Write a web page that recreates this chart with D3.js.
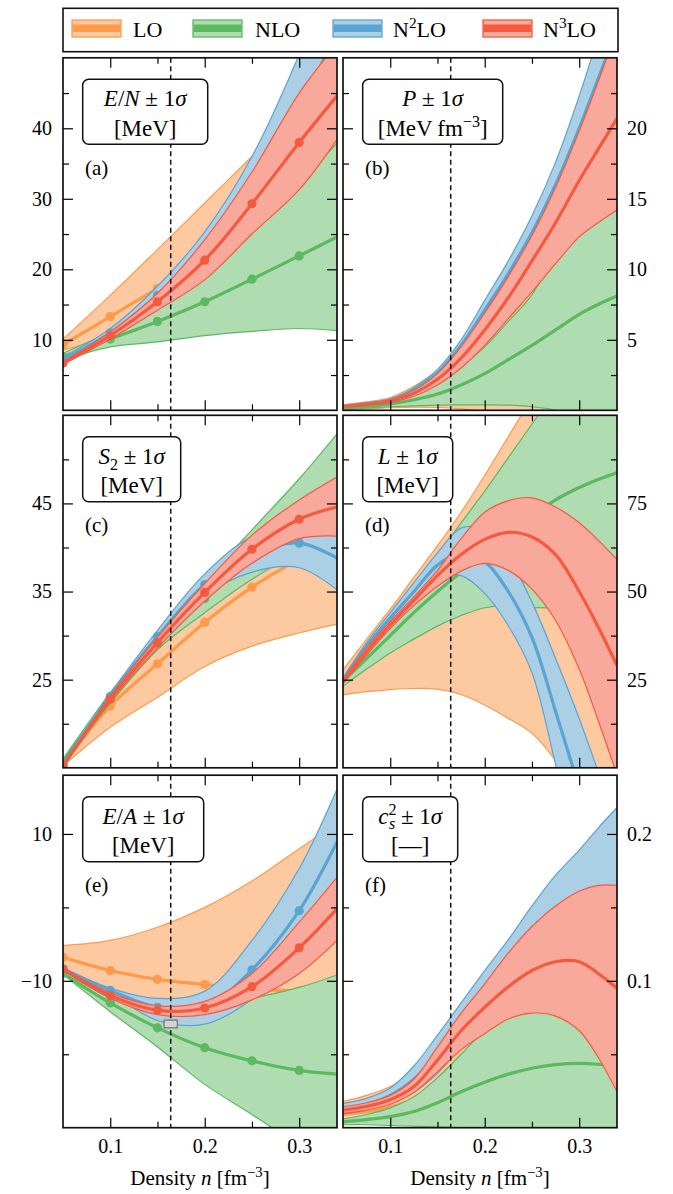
<!DOCTYPE html>
<html>
<head>
<meta charset="utf-8">
<script src="https://cdn.jsdelivr.net/npm/d3@7"></script>
<style>
  body { margin: 0; background: #fff; }
  svg text { font-family: "Liberation Serif", "DejaVu Serif", serif; }
</style>
</head>
<body>
<svg id="fig" width="673" height="1194"></svg>
<script>
// densities (fm^-3)
const nCoarse = [0.05, 0.10, 0.15, 0.20, 0.25, 0.30, 0.34];
const nFine = [0.05, 0.075, 0.10, 0.125, 0.15, 0.175, 0.20, 0.225, 0.25, 0.275, 0.30, 0.32, 0.34];
const nSat = 0.164;
const satN = [0.157, 0.171];
const satE = [-16.4, -15.35];

const orders = ["LO", "NLO", "N2LO", "N3LO"];

// (a) E/N [MeV]
const enLO   = { lo: [8.5, 10.3, 11.8, 13.0, 14.0, 15.1, 15.6], mid: [9.3, 13.3, 17.3, 21.2, 25.0, 28.8, 31.8], hi: [10.1, 16.3, 22.8, 29.4, 36.0, 42.5, 48.0] };
const enNLO  = { lo: [7.1, 9.0, 9.7, 10.6, 11.2, 11.6, 11.3], mid: [7.6, 10.1, 12.6, 15.4, 18.6, 21.9, 24.6], hi: [8.1, 11.2, 15.5, 20.2, 26.0, 32.2, 37.9] };
const enN2LO = { lo: [6.9, 10.4, 15.0, 20.1, 26.0, 34.5, 43.5], mid: [7.2, 11.0, 16.3, 22.7, 31.0, 42.5, 54.0], hi: [7.5, 11.6, 17.6, 25.3, 36.0, 50.5, 64.5] };
const enN3LO = { lo: [6.5, 10.1, 14.2, 18.5, 25.0, 31.3, 38.4], mid: [6.7, 10.6, 15.4, 21.3, 29.3, 38.0, 44.6], hi: [6.9, 11.1, 16.6, 24.2, 33.8, 45.0, 52.0] };

// (b) P [MeV fm^-3]
const pLO   = { lo: [0.05, 0.1, 0.18, 0.22, 0.2, 0.1, -0.1, -0.4, -0.8, -1.3, -2.0, -2.5, -3.0],
                mid: [0.22, 0.35, 0.54, 0.96, 1.5, 2.05, 2.6, 3.2, 3.9, 4.6, 5.25, 5.75, 6.3],
                hi: [0.4, 0.6, 0.9, 1.7, 2.8, 4.0, 5.3, 6.8, 8.6, 10.5, 12.5, 14.0, 15.6] };
const pNLO  = { lo: [0.05, 0.15, 0.25, 0.32, 0.36, 0.38, 0.38, 0.36, 0.25, 0.0, -0.8, -1.6, -2.5],
                mid: [0.1, 0.25, 0.45, 0.75, 1.15, 1.8, 2.6, 3.6, 4.6, 5.7, 6.8, 7.5, 8.1],
                hi: [0.15, 0.35, 0.65, 1.18, 1.94, 3.1, 4.5, 6.3, 8.2, 11.4, 14.4, 16.6, 18.7] };
const pN2LO = { lo: [0.24, 0.42, 0.66, 1.3, 2.4, 4.2, 6.4, 8.8, 11.4, 14.4, 17.7, 20.5, 23.0],
                mid: [0.28, 0.47, 0.73, 1.45, 2.65, 4.6, 7.1, 9.7, 12.6, 16.0, 20.0, 23.5, 27.0],
                hi: [0.32, 0.52, 0.8, 1.6, 2.9, 5.0, 7.8, 10.6, 13.8, 17.6, 22.3, 26.5, 31.0] };
const pN3LO = { lo: [0.2, 0.36, 0.55, 1.0, 1.8, 3.0, 4.6, 6.5, 8.4, 10.4, 12.3, 13.3, 14.2],
                mid: [0.25, 0.42, 0.65, 1.2, 2.2, 3.7, 5.7, 8.0, 10.6, 13.3, 16.3, 18.5, 20.7],
                hi: [0.3, 0.48, 0.75, 1.4, 2.6, 4.5, 6.9, 9.5, 12.4, 15.8, 19.8, 23.3, 27.0] };

// (c) S2 [MeV]
const s2LO   = { lo: [15.2, 19.6, 23.0, 26.5, 28.8, 30.3, 31.3], mid: [15.4, 22.0, 26.8, 31.5, 35.5, 38.7, 41.0], hi: [15.6, 23.5, 30.0, 36.0, 41.8, 47.0, 50.5] };
const s2NLO  = { lo: [15.4, 22.3, 28.4, 32.6, 36.4, 39.4, 41.0], mid: [15.7, 22.8, 29.1, 34.2, 39.2, 43.6, 47.0], hi: [16.0, 23.5, 30.2, 36.2, 42.0, 47.8, 52.9] };
const s2N2LO = { lo: [15.2, 22.8, 29.2, 34.5, 37.2, 37.7, 35.2], mid: [15.3, 23.1, 29.9, 35.8, 39.3, 40.5, 38.8], hi: [15.4, 23.4, 30.6, 37.0, 41.2, 42.2, 41.4] };
const s2N3LO = { lo: [15.1, 22.5, 28.6, 33.9, 38.2, 41.0, 41.3], mid: [15.2, 22.8, 29.2, 34.9, 39.8, 43.2, 44.6], hi: [15.3, 23.1, 29.8, 35.9, 41.4, 45.4, 48.0] };

// (d) L [MeV]
const lLO   = { lo: [20.7, 21.6, 22.2, 22.5, 22.3, 20.8, 17.8, 14.0, 9.8, 2.0, -9.5, -19.0, -28.0],
                mid: [24.3, 29.1, 33.6, 38.3, 42.7, 46.7, 50.4, 54.0, 57.4, 59.0, 58.8, 58.5, 58.5],
                hi: [27.8, 36.5, 45.0, 54.0, 63.0, 72.5, 83.0, 94.0, 105.0, 116.0, 127.0, 136.0, 145.0] };
const lNLO  = { lo: [23.1, 28.0, 32.6, 36.5, 40.2, 43.2, 45.4, 46.0, 45.5, 45.0, 42.0, 38.6, 35.4],
                mid: [24.5, 31.0, 37.5, 44.0, 50.0, 55.5, 61.0, 66.5, 71.5, 76.0, 79.5, 81.8, 83.7],
                hi: [25.5, 34.0, 43.0, 51.5, 60.5, 69.5, 78.5, 88.0, 97.5, 107.0, 117.0, 125.0, 132.0] };
const lN2LO = { lo: [24.5, 33.5, 41.0, 47.5, 54.0, 54.5, 49.5, 40.3, 27.0, 1.0, -26.0, -51.0, -76.0],
                mid: [25.0, 34.5, 42.5, 50.0, 57.5, 61.0, 58.5, 50.0, 37.0, 16.0, -6.0, -26.0, -46.0],
                hi: [25.5, 35.5, 44.0, 52.5, 61.0, 68.0, 67.5, 59.7, 47.0, 31.0, 14.0, -1.0, -16.0] };
const lN3LO = { lo: [23.8, 32.0, 39.5, 46.0, 51.5, 55.8, 58.0, 56.0, 50.7, 41.8, 28.0, 13.5, -2.0],
                mid: [24.4, 33.0, 40.5, 47.5, 54.5, 60.5, 64.8, 66.8, 65.5, 60.5, 50.0, 40.0, 29.0],
                hi: [25.0, 34.0, 41.5, 48.5, 56.0, 65.0, 72.5, 75.8, 76.6, 74.0, 69.5, 64.6, 59.1] };

// (e) E/A [MeV]
const eaLO   = { lo: [-8.4, -12.7, -16.9, -21.0, -25.8, -30.8, -34.7], mid: [-6.8, -8.6, -9.8, -10.5, -11.1, -11.4, -11.6], hi: [-5.2, -4.5, -2.7, 0.0, 3.6, 8.0, 11.5] };
const eaNLO  = { lo: [-9.1, -14.2, -19.0, -24.1, -28.2, -32.5, -36.0], mid: [-9.0, -13.0, -16.4, -19.1, -20.9, -22.2, -22.7], hi: [-8.9, -12.0, -13.8, -13.6, -12.4, -10.9, -9.2] };
const eaN2LO = { lo: [-8.6, -11.7, -15.4, -15.9, -12.5, -6.2, 1.7], mid: [-8.4, -11.3, -13.6, -13.6, -8.5, -0.45, 8.9], hi: [-8.2, -11.0, -12.4, -11.4, -4.5, 5.3, 16.1] };
const eaN3LO = { lo: [-8.55, -12.35, -14.6, -14.6, -12.6, -9.0, -4.5], mid: [-8.4, -12.0, -14.0, -13.7, -10.8, -5.5, -0.2], hi: [-8.25, -11.65, -13.4, -12.8, -9.0, -2.0, 4.1] };

// (f) c_s^2
const csLO   = { lo: [0.004, 0.004, 0.004, 0.003, 0.002, 0.001, 0.0, -0.001, -0.002, -0.003, -0.004, -0.005, -0.006],
                 mid: [0.009, 0.011, 0.014, 0.019, 0.026, 0.034, 0.04, 0.044, 0.046, 0.047, 0.048, 0.047, 0.047],
                 hi: [0.018, 0.022, 0.028, 0.038, 0.052, 0.068, 0.08, 0.09, 0.095, 0.098, 0.1, 0.1, 0.1] };
const csNLO  = { lo: [0.002, 0.002, 0.0015, 0.001, 0.0005, 0.0, -0.001, -0.0015, -0.002, -0.002, -0.002, -0.002, -0.002],
                 mid: [0.004, 0.0055, 0.0075, 0.011, 0.017, 0.0245, 0.031, 0.0365, 0.0405, 0.043, 0.0438, 0.0432, 0.0415],
                 hi: [0.006, 0.009, 0.0135, 0.021, 0.034, 0.05, 0.066, 0.0755, 0.082, 0.088, 0.09, 0.088, 0.084] };
const csN2LO = { lo: [0.0094, 0.012, 0.017, 0.024, 0.037, 0.055, 0.073, 0.088, 0.099, 0.108, 0.111, 0.106, 0.102],
                 mid: [0.013, 0.016, 0.022, 0.033, 0.05, 0.07, 0.09, 0.108, 0.125, 0.14, 0.15, 0.155, 0.16],
                 hi: [0.0166, 0.02, 0.027, 0.042, 0.063, 0.085, 0.107, 0.128, 0.151, 0.172, 0.189, 0.204, 0.218] };
const csN3LO = { lo: [0.0098, 0.012, 0.016, 0.024, 0.038, 0.053, 0.064, 0.074, 0.078, 0.076, 0.066, 0.048, 0.0245],
                 mid: [0.012, 0.0145, 0.019, 0.028, 0.046, 0.066, 0.082, 0.096, 0.107, 0.113, 0.113, 0.105, 0.095],
                 hi: [0.0143, 0.017, 0.022, 0.033, 0.055, 0.078, 0.098, 0.119, 0.137, 0.151, 0.161, 0.165, 0.165] };

const colors = [
  { line: "#fd9a4b", fill: "#fdc9a0" },
  { line: "#5db862", fill: "#afdcb0" },
  { line: "#5ba3d0", fill: "#abd0e6" },
  { line: "#f35a40", fill: "#f9a99b" }
];

const serif = '"Liberation Serif", "DejaVu Serif", serif';
const W = 274, H = 352.5;
const colX = [63, 343], rowY = [57.8, 415.3, 775.2];
const curve = d3.curveCatmullRom.alpha(0.5);

const panels = [
  { id: "a", col: 0, row: 0, grid: nCoarse, data: [enLO, enNLO, enN2LO, enN3LO], dom: [0, 50],
    major: [10, 20, 30, 40], minor: [5, 15, 25, 35, 45], fmt: d3.format("d"), dots: true, boxW: 125,
    l1: [{ t: "E", i: 1 }, { t: "/" }, { t: "N", i: 1 }, { t: " ± 1" }, { t: "σ", i: 1 }], l2: [{ t: "[MeV]" }] },
  { id: "b", col: 1, row: 0, grid: nFine, data: [pLO, pNLO, pN2LO, pN3LO], dom: [0, 25],
    major: [5, 10, 15, 20], minor: [2.5, 7.5, 12.5, 17.5, 22.5], fmt: d3.format("d"), dots: false, boxW: 140,
    l1: [{ t: "P", i: 1 }, { t: " ± 1" }, { t: "σ", i: 1 }], l2: [{ t: "[MeV\u2009fm" }, { t: "−3", sup: 1 }, { t: "]" }] },
  { id: "c", col: 0, row: 1, grid: nCoarse, data: [s2LO, s2NLO, s2N2LO, s2N3LO], dom: [15, 55],
    major: [25, 35, 45], minor: [20, 30, 40, 50], fmt: d3.format("d"), dots: true, boxW: 98,
    l1: [{ t: "S", i: 1 }, { t: "2", sub: 1 }, { t: " ± 1" }, { t: "σ", i: 1 }], l2: [{ t: "[MeV]" }] },
  { id: "d", col: 1, row: 1, grid: nFine, data: [lLO, lNLO, lN2LO, lN3LO], dom: [0, 100],
    major: [25, 50, 75], minor: [12.5, 37.5, 62.5, 87.5], fmt: d3.format("d"), dots: false, boxW: 90,
    l1: [{ t: "L", i: 1 }, { t: " ± 1" }, { t: "σ", i: 1 }], l2: [{ t: "[MeV]" }] },
  { id: "e", col: 0, row: 2, grid: nCoarse, data: [eaLO, eaNLO, eaN2LO, eaN3LO], dom: [-30, 18],
    major: [-10, 10], minor: [-20, 0], fmt: d3.format("d"), dots: true, boxW: 121,
    l1: [{ t: "E", i: 1 }, { t: "/" }, { t: "A", i: 1 }, { t: " ± 1" }, { t: "σ", i: 1 }], l2: [{ t: "[MeV]" }] },
  { id: "f", col: 1, row: 2, grid: nFine, data: [csLO, csNLO, csN2LO, csN3LO], dom: [0, 0.24],
    major: [0.1, 0.2], minor: [0.05, 0.15], fmt: d3.format(".1f"), dots: false, boxW: 95,
    l1: [{ t: "c", i: 1 }, { t: "2", sup: 1 }, { t: "s", i: 1, sub: 1, dx: -7.5 }, { t: " ± 1" }, { t: "σ", i: 1 }],
    l2: [{ t: "[—]" }] }
];

const svg = d3.select("#fig");
const defs = svg.append("defs");

// text with italic / sub / superscript pieces
function mathText(sel, parts, size) {
  let shift = 0;
  parts.forEach(p => {
    const ts = sel.append("tspan").text(p.t);
    if (p.i) ts.attr("font-style", "italic");
    const target = p.sup ? -0.38 * size : p.sub ? 0.25 * size : 0;
    if (target !== shift) { ts.attr("dy", target - shift); shift = target; }
    if (p.sup || p.sub) ts.attr("font-size", size * 0.7);
    if (p.dx) ts.attr("dx", p.dx);
  });
}

function axis(g, fn, scale, vals, size, fmt, pad) {
  g.call(fn(scale).tickValues(vals).tickSize(-size).tickPadding(pad).tickFormat(fmt || (() => "")));
  g.select(".domain").remove();
  g.selectAll("line").attr("stroke-width", 1.2);
  g.attr("font-size", 20).attr("font-family", serif);
}

const x = d3.scaleLinear().domain([0.05, 0.34]).range([0, W]);

panels.forEach(p => {
  const g = svg.append("g").attr("transform", `translate(${colX[p.col]},${rowY[p.row]})`);
  const y = d3.scaleLinear().domain(p.dom).range([H, 0]);

  defs.append("clipPath").attr("id", "clip-" + p.id)
    .append("rect").attr("width", W).attr("height", H);
  const plot = g.append("g").attr("clip-path", `url(#clip-${p.id})`);

  p.data.forEach((s, k) => {
    const c = colors[k];
    const pts = p.grid.map((n, i) => ({ n: n, lo: s.lo[i], mid: s.mid[i], hi: s.hi[i] }));
    plot.append("path").datum(pts)
      .attr("d", d3.area().x(d => x(d.n)).y0(d => y(d.lo)).y1(d => y(d.hi)).curve(curve))
      .attr("fill", c.fill);
    ["lo", "hi"].forEach(key => {
      plot.append("path").datum(pts)
        .attr("d", d3.line().x(d => x(d.n)).y(d => y(d[key])).curve(curve))
        .attr("fill", "none").attr("stroke", c.line).attr("stroke-width", 1.2);
    });
    plot.append("path").datum(pts)
      .attr("d", d3.line().x(d => x(d.n)).y(d => y(d.mid)).curve(curve))
      .attr("fill", "none").attr("stroke", c.line).attr("stroke-width", 3.2);
    if (p.dots) {
      plot.selectAll(null).data(pts.filter(d => d.n <= 0.3001)).enter().append("circle")
        .attr("cx", d => x(d.n)).attr("cy", d => y(d.mid)).attr("r", 4.6)
        .attr("fill", c.line);
    }
  });

  plot.append("line")
    .attr("x1", x(nSat)).attr("x2", x(nSat)).attr("y1", 0).attr("y2", H)
    .attr("stroke", "#111").attr("stroke-width", 1.5).attr("stroke-dasharray", "5,3.5");

  if (p.id === "e") {
    plot.append("rect")
      .attr("x", x(satN[0])).attr("width", x(satN[1]) - x(satN[0]))
      .attr("y", y(satE[1])).attr("height", y(satE[0]) - y(satE[1]))
      .attr("fill", "#d4d4d4").attr("stroke", "#777").attr("stroke-width", 1.3);
  }

  // ticks on all four sides, pointing inward
  const left = p.col === 0, bottom = p.row === 2;
  axis(g.append("g"), d3.axisLeft, y, p.major, 10, left ? p.fmt : null, 11);
  axis(g.append("g"), d3.axisLeft, y, p.minor, 6, null, 11);
  axis(g.append("g").attr("transform", `translate(${W},0)`), d3.axisRight, y, p.major, 10, left ? null : p.fmt, 10);
  axis(g.append("g").attr("transform", `translate(${W},0)`), d3.axisRight, y, p.minor, 6, null, 10);
  axis(g.append("g"), d3.axisTop, x, [0.1, 0.2, 0.3], 10, null, 8);
  axis(g.append("g"), d3.axisTop, x, [0.15, 0.25], 6, null, 8);
  axis(g.append("g").attr("transform", `translate(0,${H})`), d3.axisBottom, x, [0.1, 0.2, 0.3], 10, bottom ? d3.format(".1f") : null, 11);
  axis(g.append("g").attr("transform", `translate(0,${H})`), d3.axisBottom, x, [0.15, 0.25], 6, null, 11);

  g.append("rect").attr("width", W).attr("height", H)
    .attr("fill", "none").attr("stroke", "#111").attr("stroke-width", 1.7);

  // title box
  const bx = 19.7, by = 21.5;
  g.append("rect").attr("x", bx).attr("y", by).attr("width", p.boxW).attr("height", 65)
    .attr("rx", 6).attr("fill", "#fff").attr("stroke", "#111").attr("stroke-width", 1.5);
  const t1 = g.append("text").attr("x", bx + p.boxW / 2).attr("y", by + 27)
    .attr("text-anchor", "middle").attr("font-size", 23);
  mathText(t1, p.l1, 23);
  const t2 = g.append("text").attr("x", bx + p.boxW / 2).attr("y", by + 56.5)
    .attr("text-anchor", "middle").attr("font-size", 23);
  mathText(t2, p.l2, 23);

  g.append("text").attr("x", 22).attr("y", 117).attr("font-size", 21).text(`(${p.id})`);

  if (bottom) {
    const xl = g.append("text").attr("x", W / 2).attr("y", 1185 - rowY[2])
      .attr("text-anchor", "middle").attr("font-size", 21);
    mathText(xl, [{ t: "Density " }, { t: "n", i: 1 }, { t: " [fm" }, { t: "−3", sup: 1 }, { t: "]" }], 21);
  }
});

// legend
const leg = svg.append("g");
leg.append("rect").attr("x", 63).attr("y", 8.3).attr("width", 555).attr("height", 43.4)
  .attr("fill", "#fff").attr("stroke", "#111").attr("stroke-width", 1.6);
const patchX = [72, 193, 333, 483], labelX = [133, 255, 393, 543];
const legLabels = [
  [{ t: "LO" }],
  [{ t: "NLO" }],
  [{ t: "N" }, { t: "2", sup: 1 }, { t: "LO" }],
  [{ t: "N" }, { t: "3", sup: 1 }, { t: "LO" }]
];
orders.forEach((o, k) => {
  const c = colors[k];
  leg.append("rect").attr("x", patchX[k]).attr("y", 20).attr("width", 49).attr("height", 17)
    .attr("fill", c.fill).attr("stroke", c.line).attr("stroke-width", 1.3);
  leg.append("rect").attr("x", patchX[k] + 0.6).attr("y", 24.5).attr("width", 47.8).attr("height", 7.5)
    .attr("fill", c.line);
  const t = leg.append("text").attr("x", labelX[k]).attr("y", 36.5).attr("font-size", 22);
  mathText(t, legLabels[k], 22);
});
</script>
</body>
</html>
